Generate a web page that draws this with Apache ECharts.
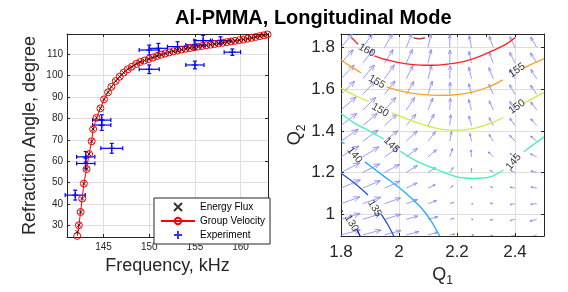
<!DOCTYPE html>
<html><head><meta charset="utf-8">
<script src="https://cdn.jsdelivr.net/npm/echarts@6/dist/echarts.min.js"></script>
<style>html,body{margin:0;padding:0;background:#fff}#c{width:568px;height:292px}</style>
</head><body><div id="c"></div>
<script>
const FONT = "'Liberation Sans', Arial, Helvetica, sans-serif";
// ---- left panel data ----
const GV_FREQ = [142.12,142.30,142.49,142.66,142.85,143.14,143.42,143.70,143.86,144.23,144.66,145.05,145.49,145.86,146.33,146.76,147.20,147.66,148.10,148.58,149.01,149.48,149.95,150.40,150.85,151.30,151.75,152.20,152.65,153.10,153.55,154.00,154.45,154.90,155.35,155.80,156.25,156.70,157.15,157.60,158.05,158.50,158.95,159.40,159.85,160.30,160.75,161.20,161.65,162.10,162.55,162.95];
const GV_ANGLE = [25.0,30.0,36.2,42.5,49.5,56.3,63.3,69.3,75.0,80.3,84.7,88.9,92.2,94.8,97.5,99.5,101.4,103.0,104.2,105.5,106.4,107.1,107.8,108.5,109.2,109.8,110.4,110.9,111.4,111.8,112.2,112.6,112.9,113.3,113.6,113.9,114.2,114.5,114.8,115.1,115.4,115.7,116.0,116.3,116.6,116.9,117.3,117.7,118.1,118.5,118.9,119.3];
const EF_ANGLE = [26.9].concat(GV_ANGLE.slice(1));
const EXP_FREQ  = [141.9,143.05,143.05,144.8,144.8,145.9,150.0,150.0,151.0,153.1,155.0,155.0,155.9,157.8,159.1];
const EXP_ANGLE = [44.1,62.0,58.9,79.2,76.9,66.0,112.0,103.0,112.8,113.6,114.4,105.0,116.4,116.4,111.0];
const EXP_FERR  = [1.1,1.0,1.0,1.0,1.0,1.2,1.1,1.1,1.0,1.1,1.0,1.0,1.0,1.1,0.9];
const EXP_AERR  = [2.3,2.5,2.5,2.5,2.5,2.3,2.3,2.0,2.3,2.3,2.3,1.8,2.5,1.8,1.5];
const LEFT_X = [141, 163];
const LEFT_Y = [24.5, 119.5];
// ---- right panel data ----
const RIGHT_X = [1.8, 2.5];
const RIGHT_Y = [0.895, 1.865];
const C130 = [[[1.8,1.02],[1.806,1.012]],[[1.856,0.922],[1.866,0.895]]];
const C135 = [[[1.8,1.196],[1.847,1.148],[1.893,1.092]],[[1.939,0.999],[1.962,0.948],[1.982,0.895]]];
const C140 = [[[1.8,1.349],[1.812,1.338]],[[1.882,1.251],[1.951,1.179],[1.997,1.131],[2.043,1.076],[2.083,1.02],[2.112,0.964],[2.14,0.895]]];
const C145 = [[[1.8,1.483],[1.847,1.436],[1.893,1.403],[1.947,1.36]],[[2.004,1.302],[2.066,1.251],[2.135,1.212],[2.2,1.179],[2.257,1.172],[2.314,1.179],[2.36,1.212]],[[2.43,1.3],[2.5,1.371]]];
const C150 = [[[1.8,1.605],[1.847,1.571],[1.895,1.541]],[[1.975,1.486],[2.031,1.455],[2.089,1.427],[2.142,1.408],[2.188,1.403],[2.257,1.411],[2.314,1.436],[2.36,1.464]],[[2.43,1.532],[2.5,1.585]]];
const C155 = [[[1.8,1.74],[1.836,1.707],[1.87,1.678]],[[1.958,1.61],[2.02,1.587],[2.077,1.575],[2.14,1.57],[2.2,1.574],[2.257,1.587],[2.314,1.614],[2.358,1.645]],[[2.43,1.702],[2.5,1.747]]];
const C160 = [[[1.836,1.848],[1.859,1.816]],[[1.915,1.76],[1.962,1.739],[2.02,1.723],[2.089,1.715],[2.135,1.716],[2.2,1.726],[2.257,1.747],[2.314,1.779],[2.372,1.819],[2.401,1.848]]];
const C165 = [[[2.05,1.846],[2.07,1.842],[2.09,1.846]]];
const CONTOUR_LEVELS = [130,135,140,145,150,155,160,165];
const CONTOUR_COLORS = ['#0c1a9c','#1f4fdf','#22b0f5','#40f0b8','#c8f03c','#ffa020','#ff2020','#a03a3a'];
const LBL_Q1  = [1.889,1.923,2.407,1.935,2.407,1.974,2.395,1.847,1.916,1.836];
const LBL_Q2  = [1.787,1.635,1.691,1.499,1.515,1.331,1.251,1.283,1.028,0.956];
const LBL_TXT = ['160','155','155','150','150','145','145','140','135','130'];
const LBL_ROT = [-28,-30,35,-30,35,-45,50,-50,-60,-60];
const QV_Q1 = [1.8,1.875,1.95,2.025,2.1,2.175,2.25,2.325,2.4,2.475];
const QV_Q2 = [0.9,0.975,1.05,1.125,1.2,1.275,1.35,1.425,1.5,1.575,1.65,1.725,1.8];
// arrow angle (deg, screen, CCW from +Q1), rows bottom->top
const QV_ANG = [
 [15,15,15,15,15,10,0,200,200,200],
 [17,17,17,16,15,15,0,195,195,195],
 [20,20,20,20,20,20,0,170,190,185],
 [23,23,24,25,25,35,90,150,170,170],
 [27,27,28,32,32,55,90,145,155,165],
 [31,32,34,37,40,72,95,135,145,155],
 [35,36,38,43,52,80,102,122,132,140],
 [38,40,43,50,62,85,105,117,125,131],
 [41,44,48,56,68,87,105,114,121,127],
 [44,47,52,60,72,88,104,113,119,124],
 [46,50,55,63,75,88,103,111,117,122],
 [48,52,58,66,77,89,102,110,116,121],
 [50,55,60,68,78,90,101,109,115,120]
];
// arrow length (px)
const QV_LEN = [
 [20,19,17,13,10,5,2,3,5,7],
 [20,19,17,12,10,4,1.5,3,5,7],
 [20,19,17,12,9,4,1.5,3,5,6],
 [21,19,17,12,8,4,1.5,3,5,6],
 [21,19,17,13,9,6,4,4,5,6],
 [21,19,17,14,11,9,7,7,6,7],
 [21,19,17,15,12,10,8,8,8,8],
 [20,19,17,15,13,11,10,9,9,9],
 [20,18,17,15,13,12,11,10,10,10],
 [19,18,17,15,14,12,11,11,11,11],
 [19,18,17,15,14,13,12,12,11,11],
 [18,17,16,15,14,13,12,12,12,12],
 [18,17,16,15,14,13,12,12,12,12]
];

const AX = '#262626', GRIDC = '#dedede';
function boxAxis(grid, pos, range){
  return {type:'value', gridIndex:grid, position:pos, min:range[0], max:range[1],
    axisLine:{show:true, lineStyle:{color:AX}}, axisTick:{show:true, inside:true, length:3, lineStyle:{color:AX}},
    axisLabel:{show:false}, splitLine:{show:false}};
}
function fmtStep(step){
  return v => { const k = v/step; return Math.abs(k-Math.round(k))<1e-6 ? String(Math.round(v*10)/10) : ''; };
}
const xAxes = [
  {type:'value', gridIndex:0, min:LEFT_X[0], max:LEFT_X[1], splitNumber:4, minInterval:5, maxInterval:5,
   name:'Frequency, kHz', nameLocation:'middle', nameGap:13,
   nameTextStyle:{fontSize:18, fontFamily:FONT, color:AX},
   axisLine:{lineStyle:{color:AX}}, axisTick:{inside:true, length:3, lineStyle:{color:AX}},
   axisLabel:{fontSize:10, fontFamily:FONT, color:AX, margin:5, formatter:fmtStep(5)},
   splitLine:{show:true, lineStyle:{color:GRIDC}}},
  boxAxis(0,'top',LEFT_X),
  {type:'value', gridIndex:1, min:RIGHT_X[0], max:RIGHT_X[1], splitNumber:4,
   name:'{q|Q}{s|1}', nameLocation:'middle', nameGap:18,
   nameTextStyle:{rich:{q:{fontSize:18, fontFamily:FONT, color:AX}, s:{fontSize:12, fontFamily:FONT, color:AX, padding:[12,0,0,0]}}},
   axisLine:{lineStyle:{color:AX}}, axisTick:{inside:true, length:3, lineStyle:{color:AX}},
   axisLabel:{fontSize:17, fontFamily:FONT, color:AX, margin:8, formatter:fmtStep(0.2)},
   splitLine:{show:true, lineStyle:{color:GRIDC}}},
  boxAxis(1,'top',RIGHT_X)
];
const yAxes = [
  {type:'value', gridIndex:0, min:LEFT_Y[0], max:LEFT_Y[1], splitNumber:9, minInterval:10, maxInterval:10,
   name:'Refraction Angle, degree', nameLocation:'middle', nameGap:28,
   nameTextStyle:{fontSize:18, fontFamily:FONT, color:AX},
   axisLine:{lineStyle:{color:AX}}, axisTick:{inside:true, length:3, lineStyle:{color:AX}},
   axisLabel:{fontSize:10, fontFamily:FONT, color:AX, margin:4, formatter:fmtStep(10)},
   splitLine:{show:true, lineStyle:{color:GRIDC}}},
  boxAxis(0,'right',LEFT_Y),
  {type:'value', gridIndex:1, min:RIGHT_Y[0], max:RIGHT_Y[1], splitNumber:5,
   name:'{q|Q}{s|2}', nameLocation:'middle', nameGap:30,
   nameTextStyle:{rich:{q:{fontSize:18, fontFamily:FONT, color:AX}, s:{fontSize:12, fontFamily:FONT, color:AX, padding:[12,0,0,0]}}},
   axisLine:{lineStyle:{color:AX}}, axisTick:{inside:true, length:3, lineStyle:{color:AX}},
   axisLabel:{fontSize:17, fontFamily:FONT, color:AX, margin:6, formatter:fmtStep(0.2)},
   splitLine:{show:true, lineStyle:{color:GRIDC}}},
  boxAxis(1,'right',RIGHT_Y)
];

const series = [];
// quiver
const qvData = [];
for (let j=0;j<QV_Q2.length;j++) for (let i=0;i<QV_Q1.length;i++) qvData.push([QV_Q1[i], QV_Q2[j], QV_ANG[j][i], QV_LEN[j][i]]);
series.push({type:'custom', name:'quiver', xAxisIndex:2, yAxisIndex:2, clip:true, silent:true, z:1,
  data:qvData,
  renderItem(params, api){
    const b = api.coord([api.value(0), api.value(1)]);
    const a = api.value(2)*Math.PI/180, L = api.value(3);
    const tx = b[0]+L*Math.cos(a), ty = b[1]-L*Math.sin(a);
    const h = Math.max(1.5, L*0.33), ha = 22*Math.PI/180;
    const st = {stroke:'#7a7aff', lineWidth:1, opacity:0.75};
    const back = a+Math.PI;
    return {type:'group', children:[
      {type:'line', shape:{x1:b[0],y1:b[1],x2:tx,y2:ty}, style:st},
      {type:'line', shape:{x1:tx,y1:ty,x2:tx+h*Math.cos(back+ha),y2:ty-h*Math.sin(back+ha)}, style:st},
      {type:'line', shape:{x1:tx,y1:ty,x2:tx+h*Math.cos(back-ha),y2:ty-h*Math.sin(back-ha)}, style:st}
    ]};
  }});
// contours
const ALLC = [C130,C135,C140,C145,C150,C155,C160,C165];
ALLC.forEach((segs, k) => segs.forEach(seg => series.push({
  type:'line', name:'c'+CONTOUR_LEVELS[k], xAxisIndex:2, yAxisIndex:2, data:seg, showSymbol:false, symbol:'none',
  smooth:0.35, lineStyle:{color:CONTOUR_COLORS[k], width:1.3}, silent:true, z:3
})));
series.push({type:'scatter', name:'clabels', xAxisIndex:2, yAxisIndex:2, symbolSize:0, silent:true, z:4,
  data: LBL_Q1.map((q,i)=>({value:[q, LBL_Q2[i]], label:{show:true, position:'inside', formatter:LBL_TXT[i], rotate:LBL_ROT[i],
    fontSize:10.5, fontFamily:FONT, color:'#000'}}))});
// left panel
series.push({type:'custom', name:'ExpErr', xAxisIndex:0, yAxisIndex:0, z:2, silent:true,
  data: EXP_FREQ.map((f,i)=>[f, EXP_ANGLE[i], EXP_FERR[i], EXP_AERR[i]]),
  renderItem(params, api){
    const x=api.value(0), y=api.value(1), ex=api.value(2), ey=api.value(3);
    const c=api.coord([x,y]), l=api.coord([x-ex,y]), r=api.coord([x+ex,y]), t=api.coord([x,y+ey]), b=api.coord([x,y-ey]);
    const st={stroke:'#0000ff', lineWidth:1.2}; const cp=2;
    return {type:'group', children:[
      {type:'line', shape:{x1:l[0],y1:c[1],x2:r[0],y2:c[1]}, style:st},
      {type:'line', shape:{x1:c[0],y1:t[1],x2:c[0],y2:b[1]}, style:st},
      {type:'line', shape:{x1:l[0],y1:c[1]-cp,x2:l[0],y2:c[1]+cp}, style:st},
      {type:'line', shape:{x1:r[0],y1:c[1]-cp,x2:r[0],y2:c[1]+cp}, style:st},
      {type:'line', shape:{x1:c[0]-cp,y1:t[1],x2:c[0]+cp,y2:t[1]}, style:st},
      {type:'line', shape:{x1:c[0]-cp,y1:b[1],x2:c[0]+cp,y2:b[1]}, style:st}
    ]};
  }});
series.push({type:'line', name:'Group Velocity', xAxisIndex:0, yAxisIndex:0, z:3,
  data: GV_FREQ.map((f,i)=>[f, GV_ANGLE[i]]), symbol:'circle', symbolSize:7, showSymbol:true,
  itemStyle:{color:'rgba(255,255,255,0)', borderColor:'#ff0000', borderWidth:1},
  lineStyle:{color:'#ff0000', width:1}, clip:false});
series.push({type:'scatter', name:'Energy Flux', xAxisIndex:0, yAxisIndex:0, z:4,
  data: GV_FREQ.map((f,i)=>[f, EF_ANGLE[i]]), symbol:'path://M0,0L10,10M10,0L0,10', symbolSize:4,
  itemStyle:{color:'rgba(0,0,0,0)', borderColor:'#000', borderWidth:1}});
series.push({type:'scatter', name:'Experiment', xAxisIndex:0, yAxisIndex:0, z:4,
  data: EXP_FREQ.map((f,i)=>[f, EXP_ANGLE[i]]), symbol:'path://M5,0L5,10M0,5L10,5', symbolSize:6,
  itemStyle:{color:'rgba(0,0,0,0)', borderColor:'#0000ff', borderWidth:1.2}});

const chart = echarts.init(document.getElementById('c'), null, {renderer:'canvas'});
chart.setOption({
  animation:false,
  backgroundColor:'#fff',
  title:{text:'Al-PMMA, Longitudinal Mode', left:170, top:3,
    textStyle:{fontSize:20, fontWeight:'bold', fontFamily:FONT, color:'#000'}},
  grid:[{left:67, top:34, width:201, height:203, containLabel:false},
        {left:341, top:34, width:203, height:202, containLabel:false}],
  xAxis:xAxes, yAxis:yAxes,
  legend:{left:154, top:198, orient:'vertical', selectedMode:false,
    data:['Energy Flux','Group Velocity','Experiment'],
    itemWidth:34, itemHeight:8, itemGap:4, padding:[4,5,4,6],
    backgroundColor:'#fff', borderColor:AX, borderWidth:1,
    textStyle:{fontSize:10, fontFamily:FONT, color:'#000'}},
  series
});
</script></body></html>
